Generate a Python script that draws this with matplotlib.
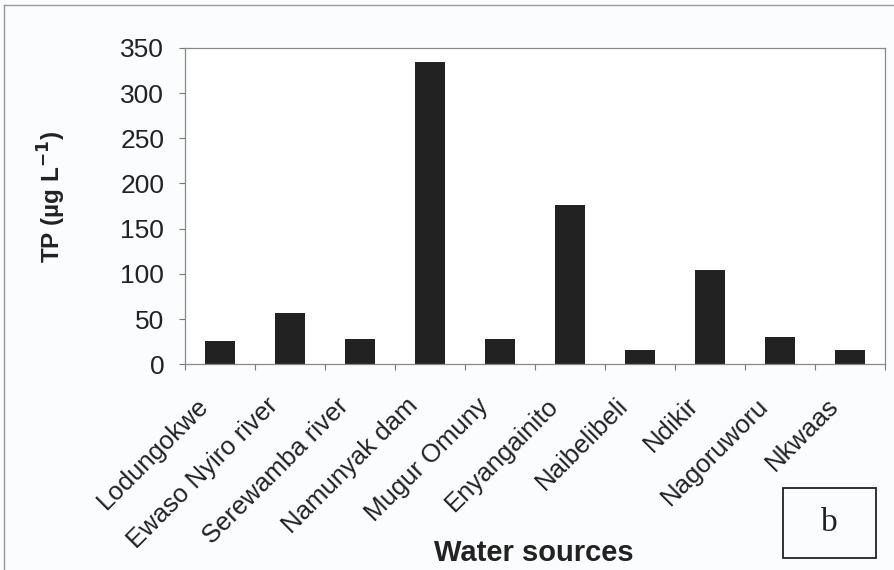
import matplotlib.pyplot as plt
from matplotlib.patches import Rectangle
from matplotlib.lines import Line2D
import matplotlib.transforms as mtransforms
import numpy as np

# --- Data ---
sources = ["Lodungokwe", "Ewaso Nyiro river", "Serewamba river", "Namunyak dam",
           "Mugur Omuny", "Enyangainito", "Naibelibeli", "Ndikir",
           "Nagoruworu", "Nkwaas"]
tp_values = [25.5, 57, 27.5, 334, 27.5, 176, 15.5, 104, 30, 15.5]
y_ticks = [0, 50, 100, 150, 200, 250, 300, 350]

plt.rcParams['font.family'] = ['Liberation Sans', 'DejaVu Sans']

fig = plt.figure(figsize=(8.94, 5.70), dpi=100)
fig.patch.set_facecolor('#fbfcfe')
ax = fig.add_axes([0.207, 0.361, 0.783, 0.555])
ax.set_facecolor('white')

x = np.arange(len(sources)) + 0.5
ax.bar(x, tp_values, width=0.42, color='#222222', zorder=2)

ax.set_xlim(0, len(sources))
ax.set_ylim(0, 350)
ax.set_yticks(y_ticks)
ax.set_yticklabels([str(v) for v in y_ticks], fontsize=19, color='#222222')

# category ticks sit on the bar boundaries, labels at bar centres
ax.set_xticks(np.arange(len(sources) + 1))
ax.set_xticklabels([])
ax.set_xticks(x, minor=True)
ax.set_xticklabels(sources, minor=True, rotation=45, ha='right',
                   rotation_mode='anchor', fontsize=18.5, color='#222222')
ax.tick_params(axis='x', which='minor', length=0, pad=21)
ax.tick_params(axis='x', which='major', length=4, color='#777777', direction='out')
ax.tick_params(axis='y', length=4, color='#777777', direction='out', pad=11)

# nudge the slanted labels left, as in the original
shift = mtransforms.ScaledTranslation(-0.24, 0, fig.dpi_scale_trans)
for lab in ax.get_xticklabels(minor=True):
    lab.set_transform(lab.get_transform() + shift)

for s in ax.spines.values():
    s.set_color('#888888')
    s.set_linewidth(0.9)

ax.set_ylabel("TP (µg L$^{\\mathbf{-1}}$)", fontsize=17.5, fontweight='bold',
              color='#222222')
ax.yaxis.set_label_coords(-0.167, 0.53)
fig.text(534 / 894, 1 - 561 / 570, "Water sources", ha='center', va='baseline',
         fontsize=21, fontweight='bold', color='#222222')

# panel label box
fig.patches.append(Rectangle((783 / 894, 1 - 558 / 570), 93 / 894, 70 / 570,
                             transform=fig.transFigure, fill=False,
                             edgecolor='#222222', linewidth=1.3))
fig.text(829.5 / 894, 1 - 523 / 570, "b", ha='center', va='center',
         fontsize=24, family='Liberation Serif', color='#222222')

# left and top edge of the scanned frame
fig.lines.append(Line2D([4 / 894, 4 / 894], [0, 1 - 5 / 570], transform=fig.transFigure,
                        color='#999999', linewidth=1.0))
fig.lines.append(Line2D([4 / 894, 1], [1 - 5 / 570, 1 - 5 / 570], transform=fig.transFigure,
                        color='#999999', linewidth=1.0))

fig.savefig("out.png", dpi=100)
